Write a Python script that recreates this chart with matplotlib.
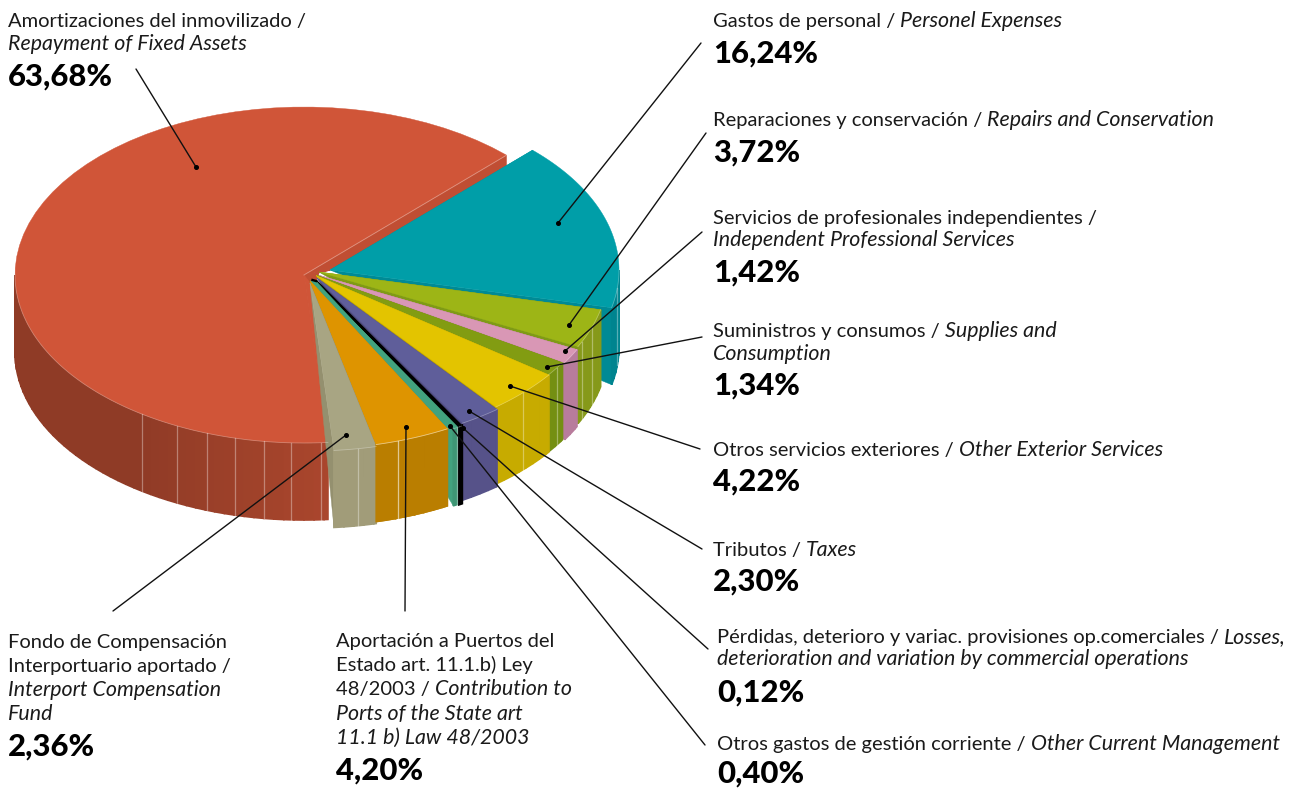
import numpy as np
import matplotlib
matplotlib.use('Agg')
from matplotlib import pyplot as plt
from matplotlib.colors import to_rgb
from matplotlib.patches import Polygon

# Gastos, en sentido antihorario desde el sector rojo
values = [63.68, 2.36, 4.20, 0.40, 0.12, 2.30, 4.22, 1.34, 1.42, 3.72, 16.24]
spanish = [
    'Amortizaciones del inmovilizado /', 'Fondo de Compensación', 'Aportación a Puertos del',
    'Otros gastos de gestión corriente /', 'Pérdidas, deterioro y variac. provisiones op.comerciales /',
    'Tributos /', 'Otros servicios exteriores /', 'Suministros y consumos /',
    'Servicios de profesionales independientes /', 'Reparaciones y conservación /', 'Gastos de personal /',
]
top_colors = ['#D05538', '#A8A583', '#DE9400', '#42A27E', '#000000', '#5F5E9A',
              '#E3C400', '#829C12', '#D997B5', '#9DB516', '#009EA8']
wall_colors = ['#AA462D', '#A19C79', '#BA7E00', '#3F9675', '#000000', '#565289',
               '#C7AB00', '#748F12', '#B87C9C', '#86991A', '#00848F']
side_colors = ['#C04E33', '#94906F', '#A87800', '#42A27E', '#000000', '#4F4C80',
               '#BFA400', '#7A9412', '#B87C9C', '#7F9A16', '#008A95']
# desplazamiento del vertice de cada sector (explode a mano)
apex_x = [304, 310, 310, 316, 316, 317, 316, 316, 318, 319, 330]
apex_y = [275, 283, 281, 281, 281, 278, 275.5, 275, 275, 272, 270]
# lineas claras de la pared, en grados
facets = {0: [-124, -116, -109.6, -103.8, -98, -92.6, -86.6], 1: [-80.4], 2: [-72.3], 3: [-60.9],
          6: [-44.3], 7: [-33.5], 9: [-24.5, -19], 10: [-6]}

RX, RY, DEPTH = 289, 168, 77
START = 45.5

fig = plt.figure(figsize=(13.02, 7.88), dpi=100)
ax = fig.add_axes([0, 0, 1, 1])
ax.set_xlim(0, 1302)
ax.set_ylim(788, 0)
ax.axis('off')

plt.rcParams['font.family'] = ['Lato', 'DejaVu Sans']

edges = START + np.cumsum([0] + [v * 3.6 for v in values])
spans = [(edges[i], edges[i + 1]) for i in range(len(values))]


def rim(i, t0, t1, n=60):
    t = np.radians(np.linspace(t0, t1, n))
    return np.column_stack([apex_x[i] + RX * np.cos(t), apex_y[i] - RY * np.sin(t)])


def front_range(t0, t1):
    # parte visible de la pared: angulos entre 180 y 360
    a, b = max(t0, 180), min(t1, 360)
    return (a, b) if b > a else None


def shade(color, t):
    # el rojo se oscurece hacia la izquierda
    if t > 275:
        return to_rgb(color)
    f = 1 - 0.16 * np.clip((275 - t) / 40, 0, 1)
    return tuple(c * f for c in to_rgb(color))


def draw_top(i):
    t0, t1 = spans[i]
    pts = np.vstack([[apex_x[i], apex_y[i]], rim(i, t0, t1)])
    lw = 1.7 if i == 4 else 0.3
    ax.add_patch(Polygon(pts, closed=True, fc=top_colors[i], ec=top_colors[i], lw=lw))


def draw_outer(i):
    t0, t1 = spans[i]
    fr = front_range(t0, t1)
    if fr is None:
        return
    ts = np.arange(fr[0], fr[1], 2.0)
    ts = np.append(ts, fr[1])
    for a, b in zip(ts[:-1], ts[1:]):
        up = rim(i, a, b, 6)
        pts = np.vstack([up, up[::-1] + [0, DEPTH]])
        col = shade(wall_colors[i], (a + b) / 2)
        ax.add_patch(Polygon(pts, closed=True, fc=col, ec=col, lw=2.4 if i == 4 else 1.2))
    arc = rim(i, fr[0], fr[1])
    ax.plot(arc[:, 0], arc[:, 1], color='white', alpha=0.3, lw=0.6)
    for f in facets.get(i, []):
        p = rim(i, f + 360, f + 360, 1)[0]
        ax.plot([p[0], p[0]], [p[1], p[1] + DEPTH], color='white', alpha=0.35, lw=0.9)


def draw_sides(i):
    t0, t1 = spans[i]
    for t in (t0, t1):
        p = rim(i, t, t, 1)[0]
        tri = [[apex_x[i], apex_y[i]], p, p + [0, DEPTH]]
        ax.add_patch(Polygon(tri, closed=True, fc=side_colors[i], ec=side_colors[i], lw=0.3))


def draw_slice(i):
    # el sector negro es solo una raya, sin caras laterales
    if i != 4:
        draw_sides(i)
    draw_outer(i)
    draw_top(i)


# relleno rojo detras de los vertices separados
ax.add_patch(Polygon(np.column_stack([apex_x, apex_y]), closed=True, fc=side_colors[0], ec=side_colors[0], lw=1))
draw_slice(0)
ax.add_patch(Polygon([[apex_x[0], apex_y[0]], [apex_x[1], apex_y[1]], rim(0, edges[1], edges[1], 1)[0]],
                     closed=True, fc=top_colors[0], ec=top_colors[0], lw=0.5))
ax.plot(*zip(rim(0, START, START, 1)[0], (apex_x[0], apex_y[0])), color='white', alpha=0.3, lw=0.7)
# del fondo hacia delante
for i in [10, 9, 8, 7, 6, 5, 3, 4]:
    draw_slice(i)
# franja verde entre el naranja y su vertice
ax.add_patch(Polygon([[apex_x[2], apex_y[2]], [apex_x[3], apex_y[3]],
                      rim(3, edges[3], edges[3], 1)[0], rim(2, edges[3], edges[3], 1)[0]],
                     closed=True, fc=top_colors[3], ec=top_colors[3], lw=0.3))
ax.plot([apex_x[2] + 2.5, apex_x[4]], [apex_y[2] - 1, apex_y[4]], color='black', lw=1.7)
draw_slice(2)
draw_slice(1)
draw_outer(2)
draw_top(2)

# lineas guia: (inicio junto al texto, punto sobre el sector)
leaders = [((136, 69), (196, 167)), ((701, 43), (558, 223)), ((706, 133), (569, 325)),
           ((702, 232), (565, 351)), ((702, 337), (547, 367)), ((700, 449), (510, 386)),
           ((702, 549), (469, 411)), ((708, 649), (463, 428)), ((705, 745), (450, 426)),
           ((405, 611), (406, 427)), ((113, 611), (346, 435))]
for a, b in leaders:
    ax.plot([a[0], b[0]], [a[1], b[1]], color='#111111', lw=1.0, solid_capstyle='round')
    ax.plot(b[0], b[1], 'o', color='black', ms=2.6)

renderer = fig.canvas.get_renderer()
TEXT_SIZE = 14.5
ITALIC_SIZE = 15.4
PCT_SIZE = 22.3


def put_line(x, y, first, second=None):
    # texto normal seguido de cursiva en la misma linea
    if first:
        t = ax.text(x, y + 1, first, fontsize=TEXT_SIZE, color='#1a1a1a', va='baseline', ha='left')
        x = t.get_window_extent(renderer).x1 + 5
    if second:
        ax.text(x, y + 1, second, fontsize=ITALIC_SIZE, color='#1a1a1a', style='italic', va='baseline', ha='left')


def pct(x, y, v):
    s = f'{v:.2f}'.replace('.', ',') + '%'
    ax.text(x, y, s, fontsize=PCT_SIZE, fontweight='black', color='black', va='baseline', ha='left')


put_line(8, 26, spanish[0])
put_line(8, 49, None, 'Repayment of Fixed Assets')
pct(8, 86, values[0])

put_line(713, 26, spanish[10], 'Personel Expenses')
pct(713, 63, values[10])

put_line(713, 125, spanish[9], 'Repairs and Conservation')
pct(713, 162, values[9])

put_line(713, 223, spanish[8])
put_line(713, 245, None, 'Independent Professional Services')
pct(713, 282, values[8])

put_line(713, 336, spanish[7], 'Supplies and')
put_line(713, 359, None, 'Consumption')
pct(713, 395, values[7])

put_line(713, 455, spanish[6], 'Other Exterior Services')
pct(713, 491, values[6])

put_line(713, 555, spanish[5], 'Taxes')
pct(713, 591, values[5])

put_line(717, 642, spanish[4], 'Losses,')
put_line(717, 664, None, 'deterioration and variation by commercial operations')
pct(717, 702, values[4])

put_line(717, 749, spanish[3], 'Other Current Management')
pct(717, 783, values[3])

put_line(8, 647, spanish[1])
put_line(8, 671, 'Interportuario aportado /')
put_line(8, 695, None, 'Interport Compensation')
put_line(8, 719, None, 'Fund')
pct(8, 756, values[1])

put_line(336, 646, spanish[2])
put_line(336, 670, 'Estado art. 11.1.b) Ley')
put_line(336, 694, '48/2003 /', 'Contribution to')
put_line(336, 719, None, 'Ports of the State art')
put_line(336, 743, None, '11.1 b) Law 48/2003')
pct(336, 780, values[2])

fig.savefig('out.png', dpi=100)
